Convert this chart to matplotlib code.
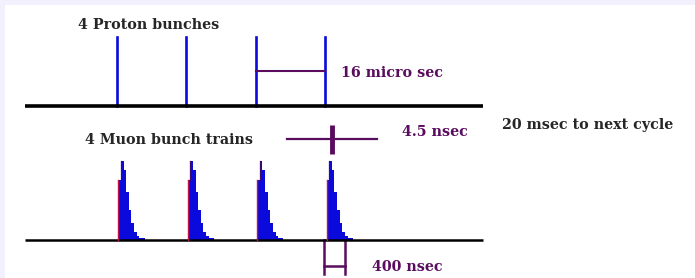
import matplotlib
matplotlib.use("Agg")
import matplotlib.pyplot as plt
import numpy as np
from matplotlib.patches import Rectangle

# ---- data ----
proton_times_us = [0, 16, 32, 48]          # 4 proton bunches, 16 micro sec apart
muon_counts = [0.76, 1.0, 0.89, 0.61, 0.38, 0.22, 0.10, 0.05, 0.025, 0.02]  # muon train profile (normalised)
muon_bin_ns = 50                            # bin width of the train histogram
train_width_ns = 400                        # "400 nsec"
labels = {
    "proton": "4 Proton bunches",
    "muon": "4 Muon bunch trains",
    "spacing": "16 micro sec",
    "width": "4.5 nsec",
    "train": "400 nsec",
    "cycle": "20 msec to next cycle",
}

# ---- schematic scales (pixels) ----
W, H = 695, 278
x0 = 116.7                 # first proton bunch
px_per_us = (325.0 - 116.7) / 48.0
px_per_ns = 21.0 / 400.0
muon_offset = 1.6
top_base, bot_base = 105.5, 240.0
muon_peak_px = 79.0

BLUE = "#0a0adc"
PURPLE = "#5a0d5e"
TXT = "#262626"
BG = "#f2f0fd"

fig = plt.figure(figsize=(W / 100, H / 100), dpi=100)
fig.patch.set_facecolor(BG)
ax = fig.add_axes([0, 0, 1, 1])
ax.set_xlim(0, W)
ax.set_ylim(H, 0)
ax.axis("off")
ax.add_patch(Rectangle((4.5, 5), W, H, facecolor="white", edgecolor="none", zorder=0))

font = dict(family="DejaVu Serif", fontweight="bold", fontsize=10.3)

# baselines
ax.plot([25, 483], [top_base, top_base], color="black", lw=2.6, solid_capstyle="butt", zorder=3)
ax.plot([25, 483], [bot_base, bot_base], color="black", lw=1.8, solid_capstyle="butt", zorder=3)

# proton bunches
px = [x0 + t * px_per_us for t in proton_times_us]
for x in px:
    ax.plot([x, x], [37, top_base], color=BLUE, lw=1.9, zorder=2)

# 16 micro sec bracket
ax.plot([px[2], px[3]], [71, 71], color=PURPLE, lw=1.5, zorder=2)
ax.text(341, 73, labels["spacing"], color=PURPLE, ha="left", va="center", **font)

# muon trains
bw = muon_bin_ns * px_per_ns
counts = np.array(muon_counts)
for x in px:
    xs = x + muon_offset
    edges = xs + bw * np.arange(len(counts) + 1)
    ax.stairs(bot_base - counts * muon_peak_px, edges, baseline=bot_base, fill=True,
              color=BLUE, lw=0, zorder=2)
    ax.plot([xs, xs], [bot_base - counts[0] * muon_peak_px, bot_base],
            color="#c0104a", lw=1.0, zorder=3)
    ax.plot([xs + bw, xs + bw], [bot_base - counts[1] * muon_peak_px,
                                 bot_base - counts[0] * muon_peak_px],
            color="#3a0a70", lw=0.9, zorder=3)

# 4.5 nsec cross
xc = px[3] + 6.7
ax.plot([287, 377], [139, 139], color=PURPLE, lw=1.6, zorder=2)
ax.plot([xc, xc], [125, 153.5], color=PURPLE, lw=3.5, solid_capstyle="butt", zorder=2)
ax.text(401.5, 131.5, labels["width"], color=PURPLE, ha="left", va="center", **font)

# 400 nsec bracket
xl = px[3] - 0.7
xr = xl + train_width_ns * px_per_ns
for x in (xl, xr):
    ax.plot([x, x], [bot_base, 274], color=PURPLE, lw=1.8, zorder=2)
ax.plot([xl, xr], [266, 266], color=PURPLE, lw=1.8, zorder=2)
ax.text(372.5, 267, labels["train"], color=PURPLE, ha="left", va="center", **font)

# black texts
ax.text(78.5, 25, labels["proton"], color=TXT, ha="left", va="center", **font)
ax.text(85, 140, labels["muon"], color=TXT, ha="left", va="center", **font)
ax.text(501.5, 125.5, labels["cycle"], color=TXT, ha="left", va="center", **font)

fig.savefig("out.png", dpi=100, facecolor=fig.get_facecolor())
